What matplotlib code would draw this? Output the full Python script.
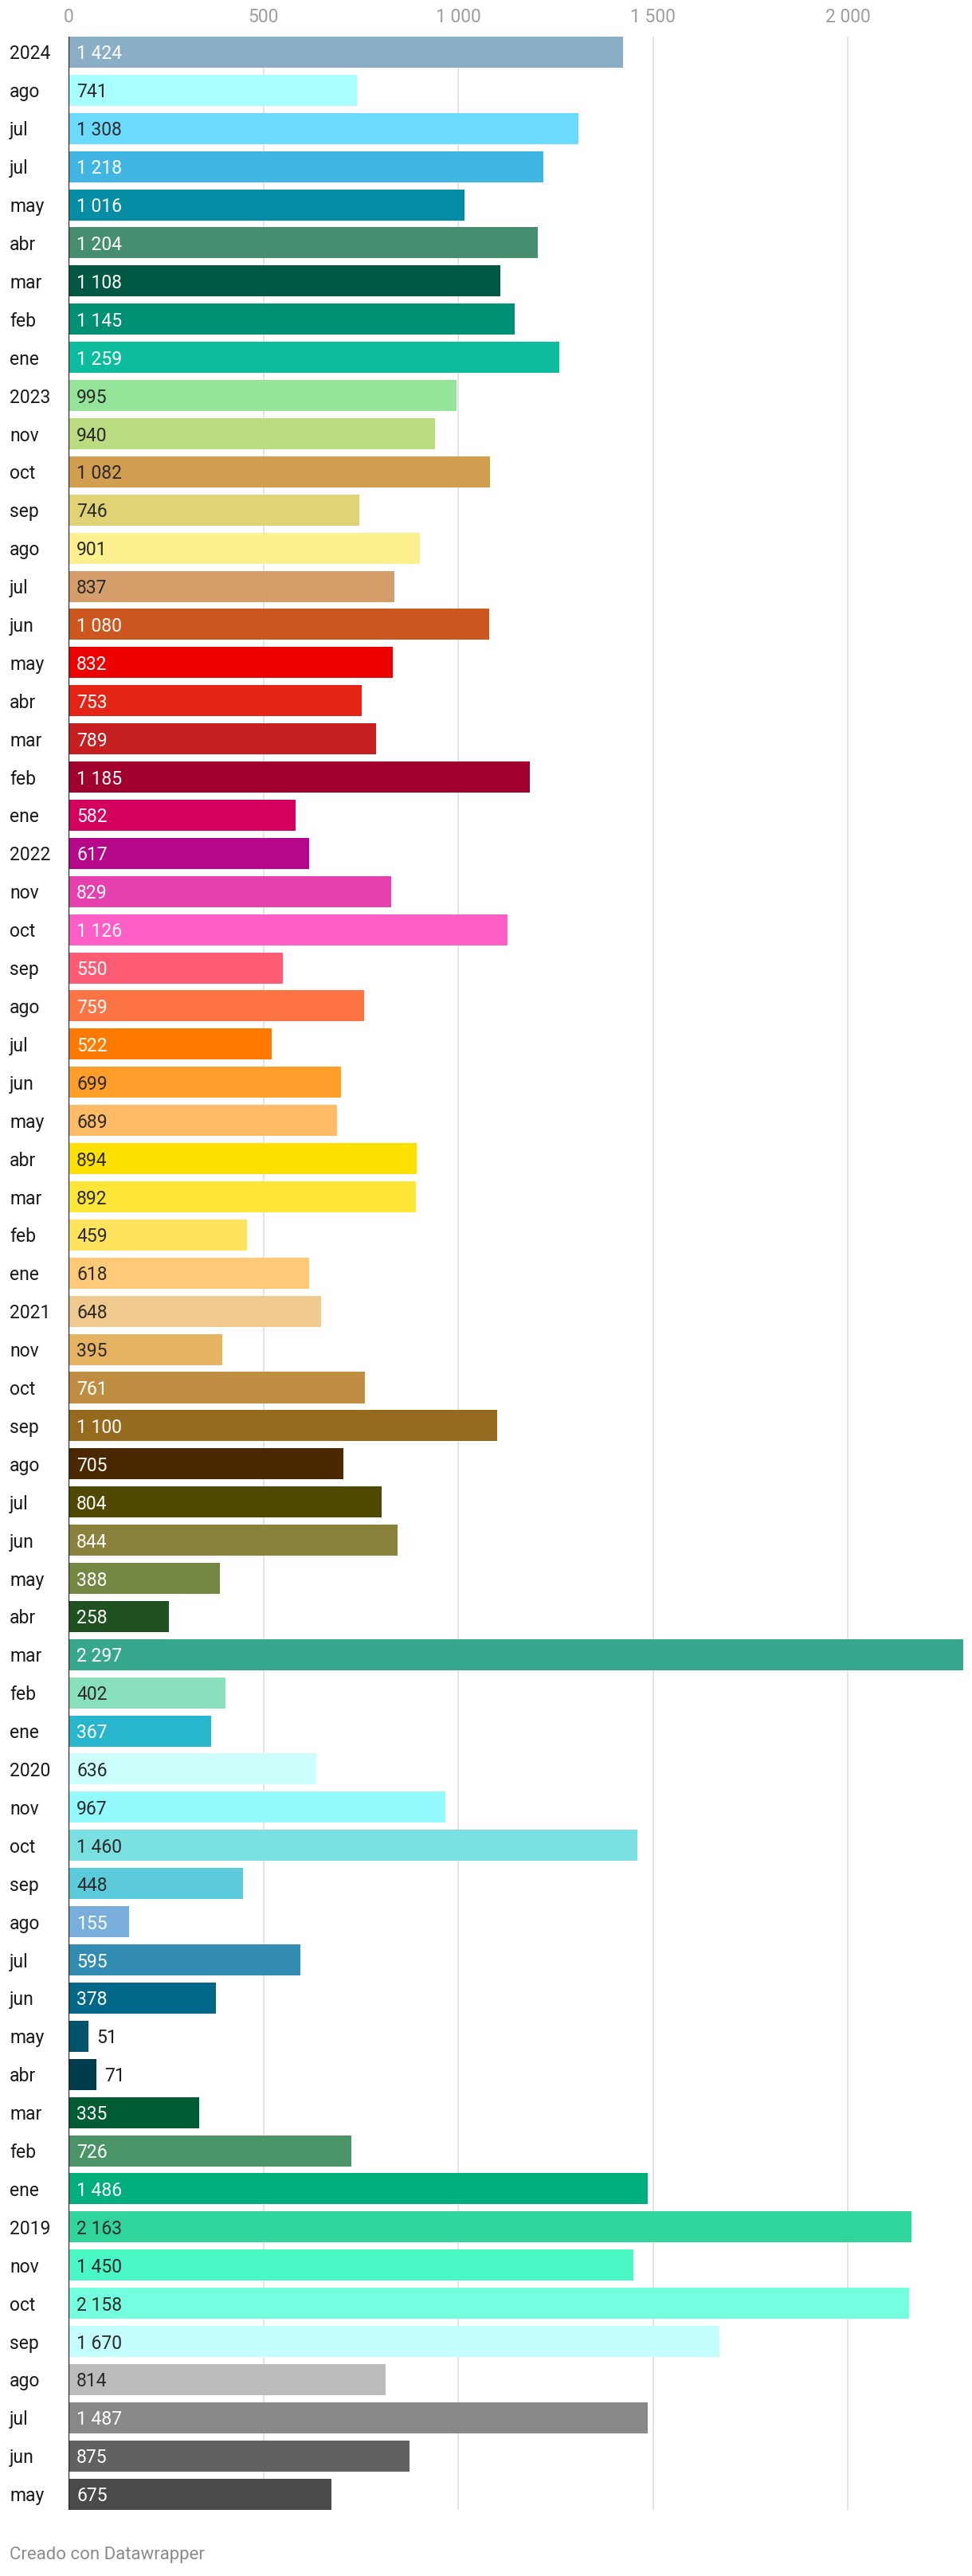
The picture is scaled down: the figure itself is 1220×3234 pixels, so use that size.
import matplotlib
matplotlib.use("Agg")
import matplotlib.pyplot as plt

plt.rcParams['font.family'] = ['Roboto', 'DejaVu Sans']

categories = ["2024", "ago", "jul", "jul", "may", "abr", "mar", "feb", "ene",
              "2023", "nov", "oct", "sep", "ago", "jul", "jun", "may", "abr", "mar", "feb", "ene",
              "2022", "nov", "oct", "sep", "ago", "jul", "jun", "may", "abr", "mar", "feb", "ene",
              "2021", "nov", "oct", "sep", "ago", "jul", "jun", "may", "abr", "mar", "feb", "ene",
              "2020", "nov", "oct", "sep", "ago", "jul", "jun", "may", "abr", "mar", "feb", "ene",
              "2019", "nov", "oct", "sep", "ago", "jul", "jun", "may"]

values = [1424, 741, 1308, 1218, 1016, 1204, 1108, 1145, 1259,
          995, 940, 1082, 746, 901, 837, 1080, 832, 753, 789, 1185, 582,
          617, 829, 1126, 550, 759, 522, 699, 689, 894, 892, 459, 618,
          648, 395, 761, 1100, 705, 804, 844, 388, 258, 2297, 402, 367,
          636, 967, 1460, 448, 155, 595, 378, 51, 71, 335, 726, 1486,
          2163, 1450, 2158, 1670, 814, 1487, 875, 675]

bar_colors = ["#8aaec6", "#a8fffe", "#6bdaff", "#41b6e2", "#068da6", "#458e70", "#005843", "#009073", "#0cbd9d",
              "#94e599", "#bcdc82", "#d29f50", "#e0d375", "#fdf08f", "#d49e6a", "#cc5820", "#ed0000", "#e42415",
              "#c71e1f", "#a0002b", "#d4005d",
              "#b6068a", "#e640ae", "#ff5ec6", "#ff5b74", "#ff7444", "#ff7b00", "#ff9f2a", "#ffbb66", "#fce100",
              "#fde636", "#ffe35c", "#ffca78",
              "#f0c98e", "#e5b362", "#c08e42", "#966a1e", "#4a2800", "#514900", "#8a813c", "#748843", "#1f5220",
              "#37a78e", "#88e0bc", "#28b6cc",
              "#ccfffc", "#93fafe", "#79dfe1", "#5bcbdc", "#7aafdd", "#338db3", "#026789", "#00536b", "#003d4c",
              "#005c33", "#4a9467", "#00b07c",
              "#30d59d", "#49f8c4", "#74ffe0", "#c2fffd", "#bbbbbb", "#888888", "#616161", "#4a4a4a"]

label_light = [1, 0, 0, 1, 1, 1, 1, 1, 1,
               0, 0, 0, 0, 0, 0, 1, 1, 1, 1, 1, 1,
               1, 1, 1, 1, 1, 1, 0, 0, 0, 0, 0, 0,
               0, 0, 1, 1, 1, 1, 1, 1, 1, 1, 0, 1,
               0, 0, 0, 0, 1, 1, 1, 0, 0, 1, 1, 1,
               0, 0, 0, 0, 0, 1, 1, 1]

x_ticks = [0, 500, 1000, 1500, 2000]
x_tick_labels = ["0", "500", "1 000", "1 500", "2 000"]

W, H = 1220, 3234
fig = plt.figure(figsize=(W / 100, H / 100), dpi=100)
fig.patch.set_facecolor("white")

n = len(values)
pitch = 47.9
first_center = 65.5
top_px = first_center - pitch / 2
bot_px = first_center + pitch * (n - 1) + pitch / 2
left_px = 86
px_per_unit = 0.489
xmax = 2300
right_px = left_px + xmax * px_per_unit

ax = fig.add_axes([left_px / W, 1 - bot_px / H, (right_px - left_px) / W, (bot_px - top_px) / H])
ax.set_xlim(0, xmax)
ax.set_ylim(n - 0.5, -0.5)
for s in ax.spines.values():
    s.set_visible(False)

FS = 16.5
bh = 39 / pitch
ys = list(range(n))
ax.vlines(x_ticks[1:], -bh / 2, n - 1 + bh / 2, colors="#e2e2e2", linewidth=1.3, zorder=0)
ax.barh(ys, values, height=bh, color=bar_colors, zorder=2)
ax.vlines([0], -bh / 2, n - 1 + bh / 2, colors="#1e1e1e", linewidth=1.6, zorder=3)

pad_units = 10 / px_per_unit
for y, v, light in zip(ys, values, label_light):
    txt = f"{v:,}".replace(",", " ")
    if v < 120:
        ax.text(v + pad_units, y, txt, color="#1e1e1e", fontsize=FS, va="center_baseline", ha="left", zorder=4)
    else:
        ax.text(pad_units, y, txt, color="white" if light else "#2a2a2a", fontsize=FS,
                va="center_baseline", ha="left", zorder=4)

ax.set_yticks(ys)
ax.set_yticklabels(categories, fontsize=FS, color="#1a1a1a")
ax.tick_params(axis="y", length=0, pad=(left_px - 12) * 0.72)
for lab in ax.get_yticklabels():
    lab.set_horizontalalignment("left")
    lab.set_verticalalignment("center_baseline")

ax.xaxis.tick_top()
ax.set_xticks(x_ticks)
ax.set_xticklabels(x_tick_labels, fontsize=FS, color="#9e9e9e")
ax.tick_params(axis="x", length=0, pad=6)

fig.text(12 / W, 1 - 3207 / H, "Creado con Datawrapper", fontsize=16, color="#8c8c8c", va="center", ha="left")

fig.savefig("out.png", dpi=100, facecolor="white")
